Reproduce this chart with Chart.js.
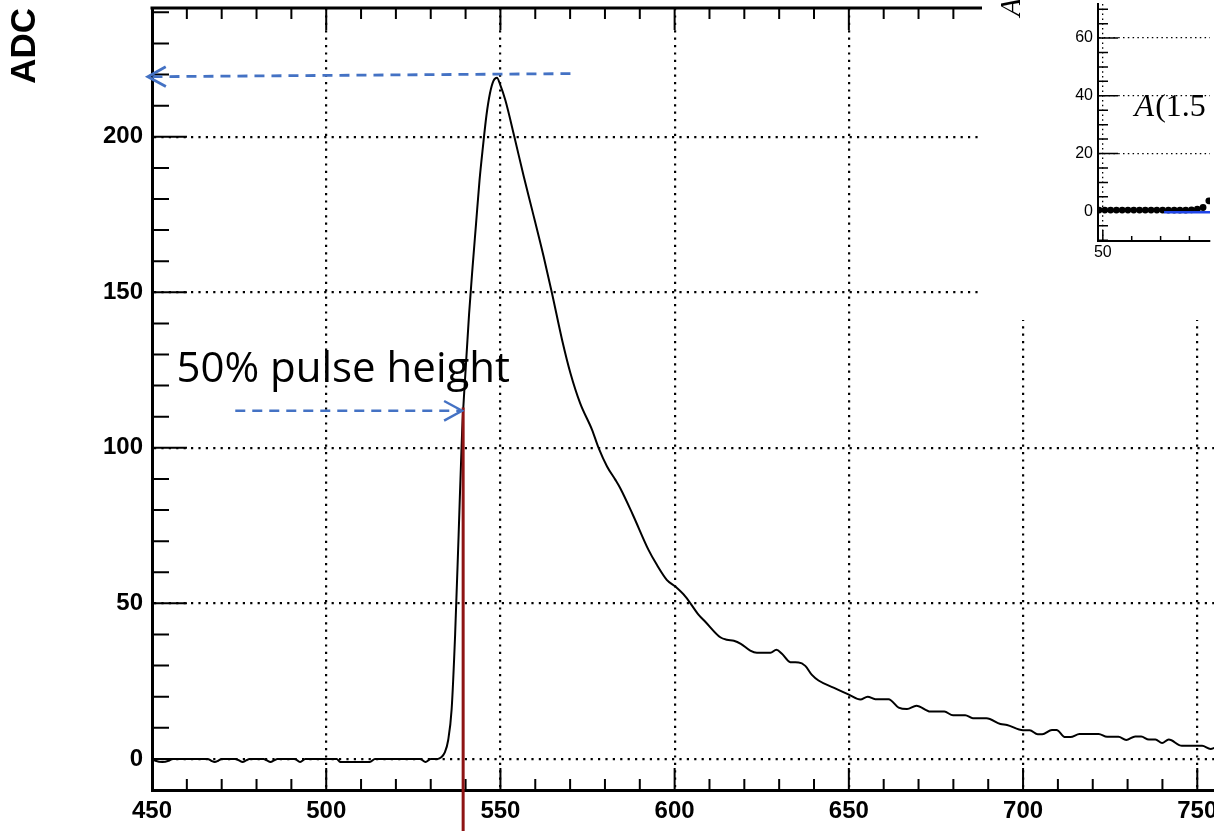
<!DOCTYPE html>
<html>
<head>
<meta charset="utf-8">
<title>ADC pulse</title>
<script src="https://cdn.jsdelivr.net/npm/chart.js@4.4.1/dist/chart.umd.min.js"></script>
<style>
  html, body { margin: 0; padding: 0; background: #fff; overflow: hidden; }
  #wrap { position: relative; width: 1214px; height: 831px; }
  #pulse { position: absolute; left: 0; top: 0; }
  #inset { position: absolute; left: 982px; top: 0; }
</style>
</head>
<body>
<div id="wrap">
  <canvas id="pulse" width="1214" height="831"></canvas>
  <canvas id="inset" width="232" height="320"></canvas>
</div>
<script>
// pulse waveform: sample time and ADC counts
const times = [450, 451, 453, 455, 456, 466, 467, 468, 469, 470, 474, 475, 476, 477, 478,
  482, 483, 484, 485, 486, 491, 492.5, 494, 503, 504, 512.5, 514, 527, 528.5, 530, 532,
  533, 534, 535, 536, 537, 538, 539, 540, 541, 542, 543, 544, 545, 546, 547, 548, 549, 550,
  551.4, 554, 556.7, 559.1, 562.4, 564.8, 567.7, 570.1, 572.9, 576.3, 578.2, 580.6, 583,
  584.4, 588, 592.5, 594.9, 597.8, 600.2, 603.1, 606.9, 608.8, 613.1, 615, 617, 619, 621.7,
  623.6, 627.5, 629.2, 630.8, 633.2, 635.6, 637.5, 639.4, 641.3, 645.6, 650.3, 653.3, 655.4,
  657.6, 661.4, 664.3, 666.7, 669.4, 673.4, 677.4, 679.9, 683.4, 685.6, 689.5, 693.5, 695.4,
  700, 701.9, 704.2, 705.5, 708.3, 709.6, 712.1, 713.6, 716.2, 721.7, 724.1, 727.4, 729.6,
  732.2, 733.9, 736.1, 738, 739.9, 741.8, 745.6, 751.4, 753.8, 755.5];
const adc = [0, -0.6, -1.0, -0.5, 0, 0, -0.6, -1.0, -0.6, 0, 0, -0.5, -1.0, -0.5, 0,
  0, -0.5, -1.0, -0.5, 0, 0, -1.0, 0, 0, -1.0, -1.0, 0, 0, -1.0, 0, 0,
  0.5, 2, 6, 16, 40, 72, 105, 125, 143, 158, 172, 186, 197, 207, 214, 218, 219, 216.5,
  211.8, 200, 187.2, 176.5, 161.5, 149.7, 134.7, 124, 114.3, 105.8, 99.9, 94, 89.7,
  87, 78.5, 67.2, 62.4, 57.5, 55.4, 52.2, 46.3, 44.1, 39.1, 38.3, 38, 37, 34.8,
  34.1, 34.1, 35.1, 33.8, 31.1, 31, 29.9, 27, 25.2, 22.9, 20.5, 19.1, 20,
  19.2, 19.2, 16.5, 16, 17.1, 15.2, 15.2, 14, 14, 13.1, 13.1, 11.2, 10.9,
  9.2, 9.2, 7.9, 7.9, 9.3, 9.3, 7, 7, 8, 8, 7.1, 7.1, 6.1,
  7.2, 7.2, 6.2, 6.2, 5.1, 6.2, 4.2, 4.2, 3.2, 3.8];

const xTicks = [450, 500, 550, 600, 650, 700, 750];
const yTicks = [0, 50, 100, 150, 200];

// annotation marks (time, ADC)
const peakArrow = { from: 570.1, to: 448.8, level: 219.8 };
const halfArrow = { from: 473.9, to: 539.0, level: 111.9 };
const halfTime = 539.3;
const halfTop = 113;
const halfLabel = { text: '50% pulse height', x: 457.0, y: 121.3 };

// inset: sampled points and fitted baseline
const insetX = [48.7, 50.7, 52.7, 54.7, 56.7, 58.7, 60.7, 62.7, 64.7, 66.7,
  68.7, 70.7, 72.7, 74.7, 76.7, 78.7, 80.7, 82.7, 84.7, 86.7];
const insetY = [0.4, 0.4, 0.4, 0.4, 0.4, 0.4, 0.4, 0.4, 0.4, 0.4,
  0.4, 0.4, 0.4, 0.4, 0.4, 0.4, 0.5, 0.7, 1.3, 3.6];
const fitX = [71.2, 87.1];
const fitY = [-0.3, -0.3];
const insetXTicks = [50];
const insetYTicks = [0, 20, 40, 60];

const SANS = '"Liberation Sans", Arial, Helvetica, sans-serif';
const SERIF = '"Liberation Serif", "Times New Roman", serif';

function dashedArrow(ctx, x0, y0, x1, y1) {
    ctx.setLineDash([10, 7]);
    ctx.beginPath();
    ctx.moveTo(x0, y0);
    ctx.lineTo(x1, y1);
    ctx.stroke();
    ctx.setLineDash([]);
    const ang = Math.atan2(y1 - y0, x1 - x0);
    ctx.beginPath();
    ctx.moveTo(x1 - 20.5 * Math.cos(ang - 0.5), y1 - 20.5 * Math.sin(ang - 0.5));
    ctx.lineTo(x1, y1);
    ctx.lineTo(x1 - 20.5 * Math.cos(ang + 0.5), y1 - 20.5 * Math.sin(ang + 0.5));
    ctx.stroke();
}

// frame, inward ticks and the hand-drawn markers
const pulseDecor = {
    id: 'pulseDecor',
    afterDraw(chart) {
        const { ctx, chartArea: a, scales: { x, y } } = chart;
        ctx.save();
        ctx.strokeStyle = '#000';
        ctx.lineWidth = 3;
        ctx.beginPath();
        ctx.moveTo(a.left - 1.5, a.top);
        ctx.lineTo(a.right, a.top);
        ctx.stroke();

        ctx.lineWidth = 2;
        ctx.beginPath();
        for (let v = 450; v <= x.max; v += 10) {
            const px = x.getPixelForValue(v);
            const len = v % 50 === 0 ? 22 : 11;
            ctx.moveTo(px, a.bottom);
            ctx.lineTo(px, a.bottom - len);
            ctx.moveTo(px, a.top);
            ctx.lineTo(px, a.top + len);
        }
        for (let v = -10; v <= 240; v += 10) {
            const py = y.getPixelForValue(v);
            const len = v % 50 === 0 ? 35 : 17;
            ctx.moveTo(a.left, py);
            ctx.lineTo(a.left + len, py);
        }
        ctx.stroke();

        // 50% time line
        ctx.strokeStyle = '#8e1414';
        ctx.lineWidth = 3;
        ctx.beginPath();
        ctx.moveTo(x.getPixelForValue(halfTime), y.getPixelForValue(halfTop));
        ctx.lineTo(x.getPixelForValue(halfTime), chart.height);
        ctx.stroke();

        ctx.strokeStyle = '#4472c4';
        ctx.lineWidth = 2.8;
        dashedArrow(ctx, x.getPixelForValue(peakArrow.from), y.getPixelForValue(peakArrow.level + 0.5),
            x.getPixelForValue(peakArrow.to), y.getPixelForValue(peakArrow.level - 0.5));
        ctx.lineWidth = 2.4;
        dashedArrow(ctx, x.getPixelForValue(halfArrow.from), y.getPixelForValue(halfArrow.level),
            x.getPixelForValue(halfArrow.to), y.getPixelForValue(halfArrow.level));

        ctx.fillStyle = '#000';
        ctx.font = '42px "Open Sans", "Noto Sans", sans-serif';
        ctx.textAlign = 'left';
        ctx.textBaseline = 'alphabetic';
        ctx.fillText(halfLabel.text, x.getPixelForValue(halfLabel.x), y.getPixelForValue(halfLabel.y));
        ctx.restore();
    }
};

new Chart(document.getElementById('pulse').getContext('2d'), {
    type: 'scatter',
    data: {
        datasets: [{
            data: times.map((t, i) => ({ x: t, y: adc[i] })),
            showLine: true,
            borderColor: '#000',
            borderWidth: 2,
            pointRadius: 0,
            cubicInterpolationMode: 'monotone',
            fill: false
        }]
    },
    options: {
        responsive: false,
        animation: false,
        devicePixelRatio: 1,
        layout: { padding: { top: 8, right: 0, bottom: 0, left: 0 } },
        plugins: { legend: { display: false }, tooltip: { enabled: false } },
        scales: {
            x: {
                type: 'linear',
                min: 450,
                max: 754.8,
                afterBuildTicks: s => { s.ticks = xTicks.map(v => ({ value: v })); },
                afterFit: s => { s.height = 41; s.paddingLeft = 0; s.paddingRight = 0; },
                grid: { color: '#000', lineWidth: 2.2, drawTicks: false },
                border: { color: '#000', width: 3, dash: [2.2, 5.2] },
                ticks: {
                    color: '#000', padding: 7, maxRotation: 0, autoSkip: false,
                    font: { family: SANS, size: 24, weight: 'bold' }
                }
            },
            y: {
                type: 'linear',
                min: -10,
                max: 241.4,
                afterBuildTicks: s => { s.ticks = yTicks.map(v => ({ value: v })); },
                afterFit: s => { s.width = 152; s.paddingTop = 0; s.paddingBottom = 0; },
                grid: { color: '#000', lineWidth: 2.2, drawTicks: false },
                border: { color: '#000', width: 3, dash: [2.2, 5.2] },
                ticks: {
                    color: '#000', padding: 9,
                    font: { family: SANS, size: 24, weight: 'bold' }
                },
                title: {
                    display: true, text: 'ADC', align: 'end', color: '#000',
                    padding: { top: 4, bottom: 0 },
                    font: { family: SANS, size: 35, weight: 'bold' }
                }
            }
        }
    },
    plugins: [pulseDecor]
});

const insetDecor = {
    id: 'insetDecor',
    beforeDraw(chart) {
        const ctx = chart.ctx;
        ctx.save();
        ctx.fillStyle = '#fff';
        ctx.fillRect(0, 0, chart.width, chart.height);
        ctx.restore();
    },
    afterDraw(chart) {
        const { ctx, chartArea: a, scales: { x, y } } = chart;
        ctx.save();
        ctx.strokeStyle = '#000';
        ctx.lineWidth = 1.5;
        ctx.beginPath();
        for (let v = -10; v <= y.max; v += 5) {
            const py = y.getPixelForValue(v);
            const len = v % 20 === 0 ? 20 : 10;
            ctx.moveTo(a.left, py);
            ctx.lineTo(a.left + len, py);
        }
        for (let v = 50; v <= x.max; v += 10) {
            const px = x.getPixelForValue(v);
            const len = v % 50 === 0 ? 11 : 5;
            ctx.moveTo(px, a.bottom);
            ctx.lineTo(px, a.bottom - len);
        }
        ctx.stroke();

        ctx.fillStyle = '#000';
        ctx.textBaseline = 'alphabetic';
        ctx.textAlign = 'left';
        const tx = x.getPixelForValue(61);
        const ty = y.getPixelForValue(33);
        ctx.font = 'italic 32px ' + SERIF;
        ctx.fillText('A', tx, ty);
        const w = ctx.measureText('A').width;
        ctx.font = '32px ' + SERIF;
        ctx.fillText('(1.5', tx + w + 1, ty);

        // axis title, running upward off the top
        ctx.translate(a.left - 78, y.getPixelForValue(67.5));
        ctx.rotate(-Math.PI / 2);
        ctx.font = 'italic 30px ' + SERIF;
        ctx.fillText('A', 0, 0);
        ctx.restore();
    }
};

new Chart(document.getElementById('inset').getContext('2d'), {
    type: 'scatter',
    data: {
        datasets: [
            {
                data: fitX.map((t, i) => ({ x: t, y: fitY[i] })),
                showLine: true,
                borderColor: '#1f45e8',
                borderWidth: 2.5,
                pointRadius: 0
            },
            {
                data: insetX.map((t, i) => ({ x: t, y: insetY[i] })),
                showLine: false,
                pointRadius: 3.4,
                pointBackgroundColor: '#000',
                pointBorderWidth: 0
            }
        ]
    },
    options: {
        responsive: false,
        animation: false,
        devicePixelRatio: 1,
        layout: { padding: 0 },
        plugins: { legend: { display: false }, tooltip: { enabled: false } },
        scales: {
            x: {
                type: 'linear',
                min: 48.33,
                max: 87.1,
                afterBuildTicks: s => { s.ticks = insetXTicks.map(v => ({ value: v })); },
                afterFit: s => { s.height = 79; s.paddingLeft = 0; s.paddingRight = 0; },
                grid: { color: '#000', lineWidth: 1.3, drawTicks: false },
                border: { color: '#000', width: 2, dash: [1.5, 3.3] },
                ticks: {
                    color: '#000', padding: 2, maxRotation: 0, autoSkip: false,
                    font: { family: SANS, size: 16 }
                }
            },
            y: {
                type: 'linear',
                min: -10.3,
                max: 71.8,
                afterBuildTicks: s => { s.ticks = insetYTicks.map(v => ({ value: v })); },
                afterFit: s => { s.width = 116; s.paddingTop = 0; s.paddingBottom = 0; },
                grid: { color: '#000', lineWidth: 1.3, drawTicks: false },
                border: { color: '#000', width: 2, dash: [1.5, 3.3] },
                ticks: {
                    color: '#000', padding: 5,
                    font: { family: SANS, size: 16 }
                }
            }
        }
    },
    plugins: [insetDecor]
});
</script>
</body>
</html>
